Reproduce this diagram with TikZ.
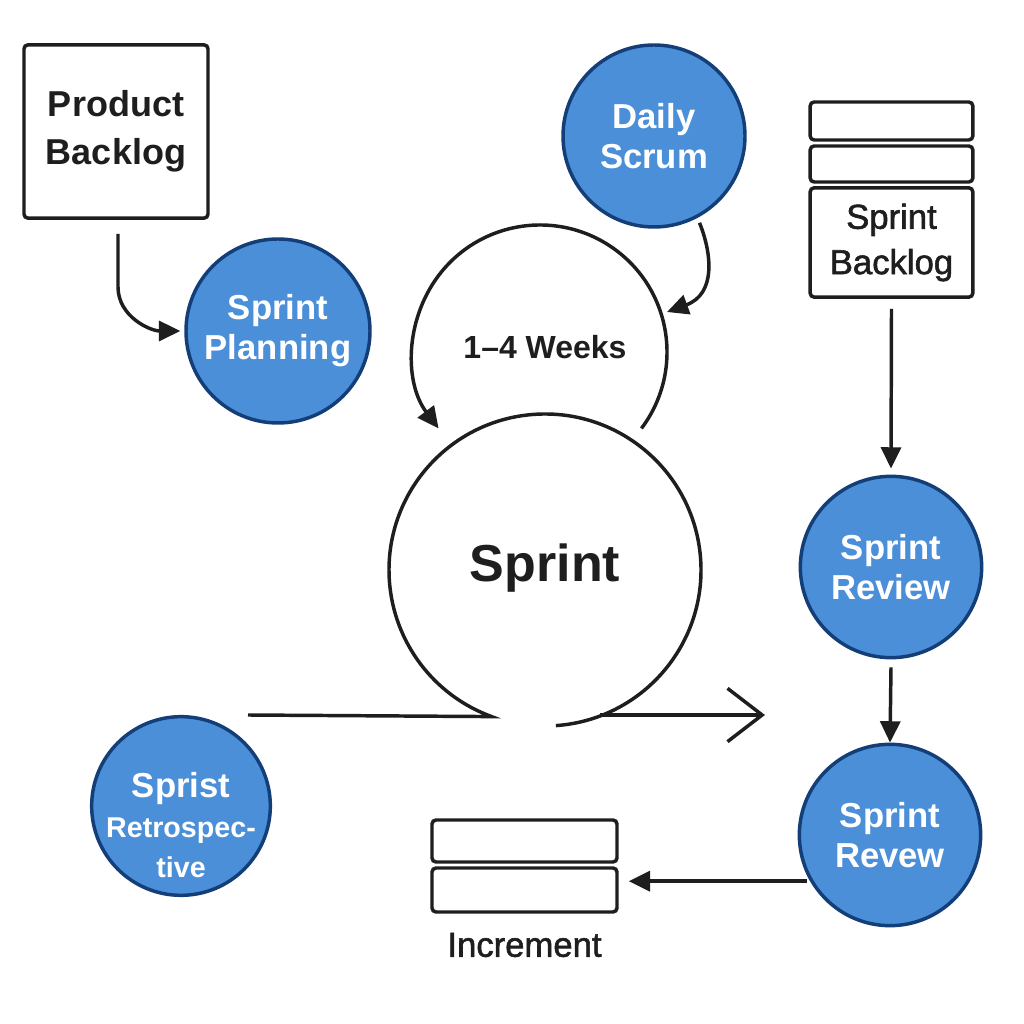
\documentclass[tikz,border=0pt]{standalone}
\usepackage{fontspec}
\setmainfont{Liberation Sans}
\newfontfamily\medfont[FakeBold=1.6]{Liberation Sans}
\usetikzlibrary{arrows.meta,calc}
\definecolor{bluefill}{HTML}{4A8FD8}
\definecolor{blueedge}{HTML}{133E78}
\definecolor{ink}{HTML}{1E1E1E}
\tikzset{
  bluecirc/.style={circle, draw=blueedge, fill=bluefill, line width=2.6pt, text=white,
    font=\bfseries\fontsize{26}{30}\selectfont, align=center, inner sep=0pt},
  boxnode/.style={draw=ink, rounded corners=3pt, line width=2.6pt, fill=white, inner sep=0pt,
    align=center, text=ink},
  darklbl/.style={text=ink, align=center, inner sep=0pt},
  arr/.style={draw=ink, line width=2.6pt, -{Triangle[length=16pt,width=15pt]}},
  plain/.style={draw=ink, line width=2.6pt},
}
\begin{document}
\begin{tikzpicture}[x=0.75pt,y=0.75pt]
\path[use as bounding box, fill=white] (0,0) rectangle (1024,1024);

% Product Backlog
\node[boxnode, minimum width=138pt, minimum height=130pt,
  font=\bfseries\fontsize{27}{36}\selectfont] (pb) at (116,892.5) {Product\\Backlog};

% Sprint Planning
\node[bluecirc, minimum size=138pt] (sp) at (278,693) {Sprint\\Planning};

% Daily Scrum
\node[bluecirc, minimum size=136.5pt] (ds) at (654,888) {Daily\\Scrum};

% Sprint Backlog stack
\node[boxnode, minimum width=122pt, minimum height=28.5pt] (sb1) at (891.5,903) {};
\node[boxnode, minimum width=122pt, minimum height=27pt] (sb2) at (891.5,860) {};
\node[boxnode, minimum width=122pt, minimum height=82pt,
  font=\medfont\fontsize{26}{34}\selectfont] (sb) at (891.5,781.5) {Sprint\\Backlog};

% Sprint Review
\node[bluecirc, minimum size=136pt] (srv) at (891,457) {Sprint\\Review};
% Sprint Revew
\node[bluecirc, minimum size=136pt] (srw) at (890,189) {Sprint\\Revew};

% Increment
\node[boxnode, minimum width=138.75pt, minimum height=31.5pt] (inc1) at (524.5,183) {};
\node[boxnode, minimum width=138.75pt, minimum height=33pt] (inc2) at (524.5,134) {};
\node[darklbl, font=\medfont\fontsize{26}{30}\selectfont] (incl) at (524.5,79) {Increment};

% Retrospective
\node[bluecirc, minimum size=134pt] (rt) at (181,218) {};
\node[text=white, align=center, inner sep=0pt, font=\bfseries\fontsize{21.5}{30}\selectfont]
  (rtl) at (181,199) {{\fontsize{26}{30}\selectfont Sprist}\\Retrospec-\\tive};

% 1-4 Weeks loop
\coordinate (wkc) at (540,672);
\node[darklbl, font=\bfseries\fontsize{24}{28}\selectfont] (wk) at (545,677) {1–4 Weeks};
\draw[arr] ([shift={(-37:127)}]wkc) arc[start angle=-37, end angle=217, radius=127];

% Sprint loop
\coordinate (spc) at (545,454);
\node[darklbl, font=\bfseries\fontsize{39}{44}\selectfont] (spr) at (545,456) {Sprint};
\draw[plain] ([shift={(-86:156)}]spc) arc[start angle=-86, end angle=250, radius=156]
  coordinate (loopend) -- (248,309) coordinate (leftend);
\coordinate (rstart) at (600,309);
\coordinate (rend) at (765,309);
\draw[draw=ink, line width=2.6pt, -{Straight Barb[length=26pt,width=40pt]}] (rstart) -- (rend);

% Connectors
\draw[arr] ($(pb.south)+(2,-14)$) -- ++(0,-53) to[out=-90, in=180] ($(sp.west)+(-4,0)$);
\draw[arr, shorten <=4pt] (ds.-62) .. controls (712,770) and (716,730) .. (667,712);
\draw[arr] ($(sb.south)+(0,-10)$) -- ($(srv.north)+(0,6)$);
\draw[arr] ($(srv.south)+(0,-8)$) -- (srw.north);
\draw[arr] ($(srw.210)+(-3,0)$) -- ($(inc2.east |- srw.210)+(10,0)$);
\end{tikzpicture}
\end{document}
